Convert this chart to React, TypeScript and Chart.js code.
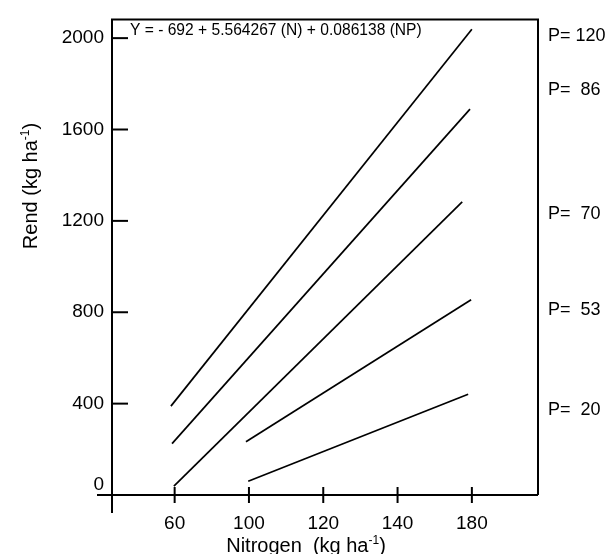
import React, { useEffect, useRef } from 'react';
import { Chart, registerables } from 'chart.js';

Chart.register(...registerables);

// Positions of the N levels along the (evenly spaced) x axis, and their labels
const xTickPositions = [1, 2, 3, 4, 5];
const xTickLabels = ['60', '100', '120', '140', '180'];
const yTickValues = [0, 400, 800, 1200, 1600, 2000];

// Series (one line per P level), endpoints
const seriesNames = ['P= 120', 'P=  86', 'P=  70', 'P=  53', 'P=  20'];
const seriesX = [
  [0.95, 5.0],
  [0.965, 4.975],
  [0.99, 4.87],
  [1.96, 4.99],
  [1.99, 4.95],
];
const seriesY = [
  [389, 2039],
  [225, 1689],
  [39, 1283],
  [233, 855],
  [60, 441],
];
// Where each P label sits (in y-data units)
const labelY = [2010, 1771, 1231, 808, 371];
const equation = 'Y = - 692 + 5.564267 (N) + 0.086138 (NP)';

const X_MIN = 0.157;
const X_MAX = 5.89;
const Y_MIN = 0;
const Y_MAX = 2082;

const FONT = '"Liberation Sans", Arial, sans-serif';

function drawWithSup(
  ctx: CanvasRenderingContext2D,
  pre: string,
  sup: string,
  post: string,
  x: number,
  y: number,
  size: number,
  align: 'center' | 'left'
) {
  ctx.textBaseline = 'alphabetic';
  ctx.textAlign = 'left';
  const main = `${size}px ${FONT}`;
  const small = `${Math.round(size * 0.6)}px ${FONT}`;
  ctx.font = main;
  const w1 = ctx.measureText(pre).width;
  const w3 = ctx.measureText(post).width;
  ctx.font = small;
  const w2 = ctx.measureText(sup).width;
  const total = w1 + w2 + w3;
  let sx = align === 'center' ? x - total / 2 : x;
  ctx.font = main;
  ctx.fillText(pre, sx, y);
  sx += w1;
  ctx.font = small;
  ctx.fillText(sup, sx, y - size * 0.42);
  sx += w2;
  ctx.font = main;
  ctx.fillText(post, sx, y);
}

const framePlugin = {
  id: 'framePlugin',
  afterDraw(chart: any) {
    const { ctx, chartArea, scales } = chart;
    const { left, right, top, bottom } = chartArea;
    const xs = scales.x;
    const ys = scales.y;
    ctx.save();
    ctx.strokeStyle = '#000';
    ctx.fillStyle = '#000';
    ctx.lineWidth = 2;
    ctx.lineCap = 'butt';
    // frame
    ctx.beginPath();
    ctx.moveTo(left, bottom + 18);
    ctx.lineTo(left, top);
    ctx.lineTo(right, top);
    ctx.lineTo(right, bottom);
    ctx.stroke();
    // x axis line, extended to the left
    ctx.beginPath();
    ctx.moveTo(left - 15, bottom);
    ctx.lineTo(right, bottom);
    ctx.stroke();
    // y ticks (inside)
    yTickValues.forEach((v) => {
      if (v === 0) return;
      const py = ys.getPixelForValue(v);
      ctx.beginPath();
      ctx.moveTo(left, py);
      ctx.lineTo(left + 16, py);
      ctx.stroke();
    });
    // x ticks (crossing)
    xTickPositions.forEach((v) => {
      const px = xs.getPixelForValue(v);
      ctx.beginPath();
      ctx.moveTo(px, bottom - 8);
      ctx.lineTo(px, bottom + 8);
      ctx.stroke();
    });

    // the "0" label sits just above the baseline
    ctx.font = `19px ${FONT}`;
    ctx.textAlign = 'right';
    ctx.textBaseline = 'middle';
    ctx.fillText(String(yTickValues[0]), left - 8, ys.getPixelForValue(0) - 10);

    // equation
    ctx.font = `15.6px ${FONT}`;
    ctx.textAlign = 'left';
    ctx.textBaseline = 'middle';
    ctx.fillText(equation, left + 18, top + 11);

    // P labels
    ctx.font = `18px ${FONT}`;
    ctx.textBaseline = 'middle';
    seriesNames.forEach((n, i) => {
      ctx.fillText(n, right + 10, ys.getPixelForValue(labelY[i]));
    });

    // x title
    drawWithSup(ctx, 'Nitrogen  (kg ha', '-1', ')', 306, 552, 20, 'center');

    // y title
    ctx.save();
    ctx.translate(37, 186);
    ctx.rotate(-Math.PI / 2);
    drawWithSup(ctx, 'Rend (kg ha', '-1', ')', 0, 0, 20, 'center');
    ctx.restore();

    ctx.restore();
  },
};

export default function App() {
  const ref = useRef<HTMLCanvasElement | null>(null);
  useEffect(() => {
    if (!ref.current) return;
    const datasets = seriesNames.map((name, i) => ({
      label: name,
      data: seriesX[i].map((x, j) => ({ x, y: seriesY[i][j] })),
      borderColor: '#000',
      backgroundColor: '#000',
      borderWidth: 1.7,
      pointRadius: 0,
      fill: false,
      tension: 0,
    }));
    const chart = new Chart(ref.current, {
      type: 'line',
      data: { datasets },
      plugins: [framePlugin],
      options: {
        animation: false,
        responsive: false,
        layout: { padding: { top: 13, right: 77, left: 0, bottom: 0 } },
        plugins: {
          legend: { display: false },
          tooltip: { enabled: false },
          title: { display: false },
        },
        scales: {
          x: {
            type: 'linear',
            min: X_MIN,
            max: X_MAX,
            grid: { display: false, drawTicks: false },
            border: { display: false },
            afterBuildTicks: (scale: any) => {
              scale.ticks = xTickPositions.map((v) => ({ value: v }));
            },
            afterFit: (scale: any) => {
              scale.height = 59;
            },
            ticks: {
              color: '#000',
              font: { family: FONT, size: 19 },
              padding: 17,
              maxRotation: 0,
              autoSkip: false,
              callback: (v: any) => {
                const idx = xTickPositions.indexOf(Number(v));
                return idx >= 0 ? xTickLabels[idx] : '';
              },
            },
          },
          y: {
            type: 'linear',
            min: Y_MIN,
            max: Y_MAX,
            grid: { display: false, drawTicks: false },
            border: { display: false },
            afterBuildTicks: (scale: any) => {
              scale.ticks = yTickValues.map((v) => ({ value: v }));
            },
            afterFit: (scale: any) => {
              scale.width = 112;
            },
            ticks: {
              color: '#000',
              font: { family: FONT, size: 19 },
              padding: 8,
              autoSkip: false,
              callback: (v: any) => (Number(v) === 0 ? '' : String(v)),
            },
          },
        },
      },
    });
    return () => chart.destroy();
  }, []);
  return (
    <div style={{ position: 'absolute', left: 0, top: 0, width: 615, height: 554, background: '#fff' }}>
      <canvas ref={ref} width={615} height={554} />
    </div>
  );
}
